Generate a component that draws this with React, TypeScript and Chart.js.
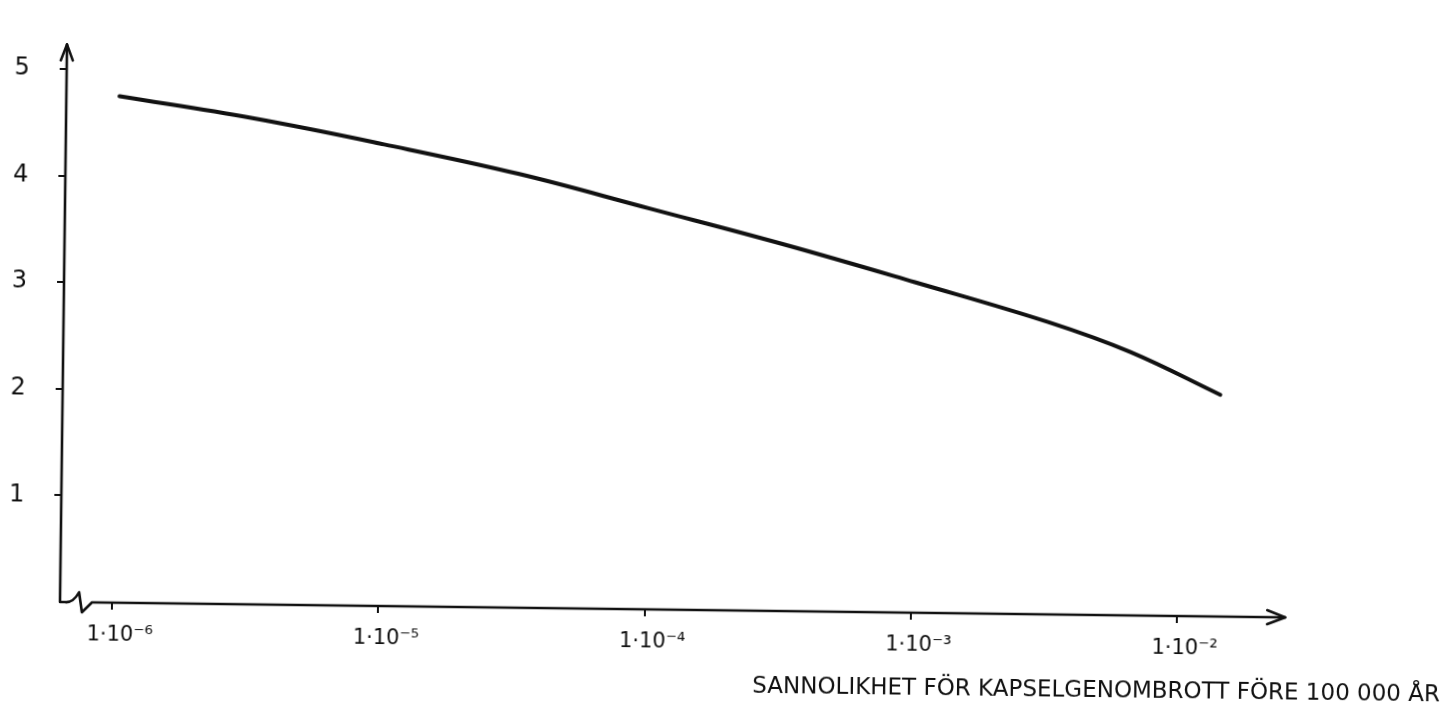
import React, { useEffect, useRef } from 'react';
import { Chart, registerables } from 'chart.js';

Chart.register(...registerables);

// Probability of canister breach before 100 000 years (x, log scale)
const probability = [1.01e-6, 3.2e-6, 1.0e-5, 3.2e-5, 1.0e-4, 3.2e-4, 1.0e-3, 3.2e-3, 6.5e-3, 1.42e-2];
const values = [4.75, 4.56, 4.33, 4.07, 3.76, 3.44, 3.1, 2.74, 2.47, 2.08];

const xTickValues = [1e-6, 1e-5, 1e-4, 1e-3, 1e-2];
const xTickLabels = ['1·10⁻⁶', '1·10⁻⁵', '1·10⁻⁴', '1·10⁻³', '1·10⁻²'];
const yTickValues = [1, 2, 3, 4, 5];
const yTickLabels = ['1', '2', '3', '4', '5'];

const xMin = 6.378e-7;
const xMax = 0.098;
const xAxisEnd = 0.02549;
const yMin = 0;
const yMax = 5.23;
const axisTitle = 'SANNOLIKHET FÖR KAPSELGENOMBROTT FÖRE 100 000 ÅR';

const INK = '#111111';

const handAxes = {
  id: 'handAxes',
  afterDraw(chart: any) {
    const { ctx, chartArea, scales } = chart;
    const { left, top, bottom } = chartArea;
    const xEnd = scales.x.getPixelForValue(xAxisEnd);
    ctx.save();
    ctx.strokeStyle = INK;
    ctx.lineWidth = 2.6;
    ctx.lineCap = 'round';
    ctx.lineJoin = 'round';
    ctx.beginPath();
    // y axis
    ctx.moveTo(left, top);
    ctx.lineTo(left, bottom);
    // x axis with break mark
    ctx.lineTo(left + 5, bottom);
    ctx.quadraticCurveTo(left + 13, bottom + 1, left + 19, bottom - 10);
    ctx.lineTo(left + 22, bottom + 10);
    ctx.lineTo(left + 32, bottom);
    ctx.lineTo(xEnd, bottom);
    ctx.stroke();
    // arrow heads
    ctx.beginPath();
    ctx.moveTo(xEnd - 18, bottom - 7);
    ctx.lineTo(xEnd, bottom);
    ctx.lineTo(xEnd - 18, bottom + 7);
    ctx.moveTo(left - 6, top + 16);
    ctx.lineTo(left, top);
    ctx.lineTo(left + 6, top + 16);
    ctx.stroke();
    ctx.restore();
  },
};

export default function App() {
  const canvasRef = useRef<HTMLCanvasElement | null>(null);

  useEffect(() => {
    const canvas = canvasRef.current;
    if (!canvas) return;
    const chart = new Chart(canvas, {
      type: 'line',
      data: {
        datasets: [
          {
            data: probability.map((p, i) => ({ x: p, y: values[i] })),
            borderColor: INK,
            borderWidth: 4,
            borderCapStyle: 'round',
            pointRadius: 0,
            tension: 0.4,
            fill: false,
          },
        ],
      },
      options: {
        responsive: false,
        animation: false,
        devicePixelRatio: 1,
        layout: { padding: { top: 38, right: 13, bottom: 0, left: 0 } },
        plugins: {
          legend: { display: false },
          tooltip: { enabled: false },
          title: {
            display: true,
            position: 'bottom',
            align: 'end',
            text: axisTitle,
            color: INK,
            font: { family: "'DejaVu Sans', sans-serif", size: 23, weight: 'normal', lineHeight: 1 },
            padding: { top: 0, bottom: 14 },
          },
        },
        scales: {
          x: {
            type: 'logarithmic',
            min: xMin,
            max: xMax,
            afterBuildTicks: (scale: any) => {
              scale.ticks = xTickValues.map((v) => ({ value: v }));
            },
            afterFit: (scale: any) => {
              scale.height = 65;
            },
            border: { display: false },
            grid: {
              display: true,
              drawOnChartArea: false,
              drawTicks: true,
              tickLength: 7,
              color: INK,
              lineWidth: 2,
            },
            ticks: {
              autoSkip: false,
              maxRotation: 0,
              padding: 13,
              labelOffset: 8,
              color: INK,
              font: { family: "'DejaVu Sans', sans-serif", size: 21 },
              callback: (_v: any, i: number) => xTickLabels[i],
            },
          },
          y: {
            type: 'linear',
            min: yMin,
            max: yMax,
            afterBuildTicks: (scale: any) => {
              scale.ticks = yTickValues.map((v) => ({ value: v }));
            },
            afterFit: (scale: any) => {
              scale.width = 60;
            },
            border: { display: false },
            grid: {
              display: true,
              drawOnChartArea: false,
              drawTicks: true,
              tickLength: 7,
              color: INK,
              lineWidth: 2,
            },
            ticks: {
              padding: 30,
              color: INK,
              font: { family: "'DejaVu Sans', sans-serif", size: 24 },
              callback: (_v: any, i: number) => yTickLabels[i],
            },
          },
        },
      },
      plugins: [handAxes],
    });
    return () => chart.destroy();
  }, []);

  return (
    <div
      style={{
        position: 'fixed',
        left: 0,
        top: 0,
        width: 1454,
        height: 704,
        background: '#ffffff',
        transform: 'rotate(0.72deg)',
        transformOrigin: '60px 602px',
      }}
    >
      <canvas ref={canvasRef} width={1454} height={704} style={{ display: 'block' }} />
    </div>
  );
}
